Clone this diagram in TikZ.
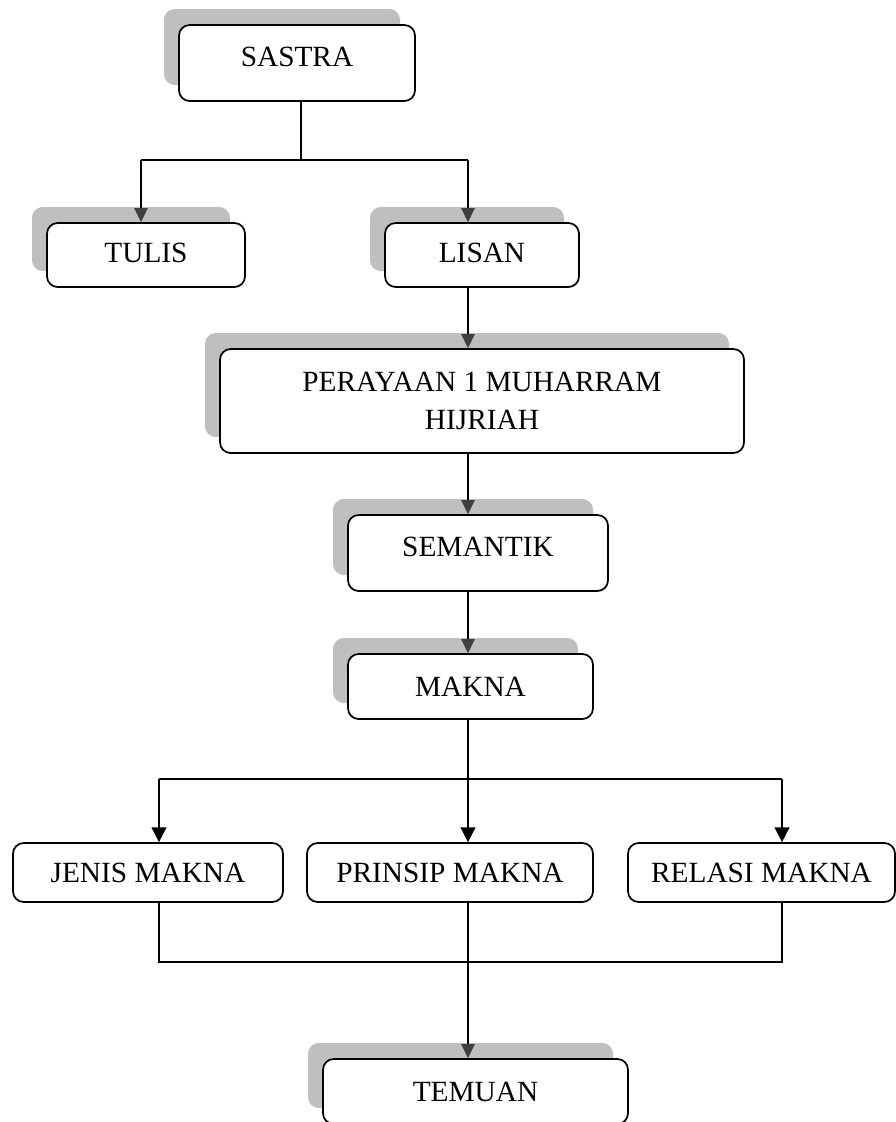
\documentclass[tikz,border=0pt]{standalone}
\usepackage{fontspec}
\setmainfont{Liberation Serif}
\usetikzlibrary{arrows.meta,shadows,calc}
\definecolor{shadowgray}{RGB}{191,191,191}
\definecolor{tipgray}{RGB}{64,64,64}
\begin{document}
\begin{tikzpicture}[x=0.75pt,y=-0.75pt,
  boxbase/.style={draw=black, line width=1.3pt, rounded corners=8pt, fill=white,
    font=\fontsize{22}{28.5}\selectfont, inner sep=0pt},
  box/.style={boxbase, text height=14.6pt, text depth=0pt},
  shad/.style={general shadow={shadow xshift=-11.25pt, shadow yshift=12pt, fill=shadowgray}},
  conn/.style={draw=black, line width=1.2pt},
  arr/.style={conn, -{Triangle[width=10pt,length=10.5pt,color=tipgray]}},
  arrb/.style={conn, -{Triangle[width=11pt,length=11pt,color=black]}}
]
\useasboundingbox (0,0) rectangle (896,1122);
\clip (0,0) rectangle (896,1122);

% boxes
\node[box,shad,minimum width=177pt,minimum height=57pt,text depth=9pt] (sastra) at (297,63) {SASTRA};
\node[box,shad,minimum width=148.5pt,minimum height=48pt,text depth=3pt] (tulis) at (146,255) {TULIS};
\node[box,shad,minimum width=145.5pt,minimum height=48pt,text depth=3pt] (lisan) at (482,255) {LISAN};
\node[boxbase,shad,minimum width=393pt,minimum height=78pt,align=center] (perayaan) at (482,401) {PERAYAAN 1 MUHARRAM\\HIJRIAH};
\node[box,shad,minimum width=195pt,minimum height=57pt,text depth=9pt] (semantik) at (478,553) {SEMANTIK};
\node[box,shad,minimum width=183.75pt,minimum height=48.75pt] (makna) at (470.5,686.5) {MAKNA};
\node[box,minimum width=202.5pt,minimum height=44.25pt] (jenis) at (148,872.5) {JENIS MAKNA};
\node[box,minimum width=214.5pt,minimum height=44.25pt] (prinsip) at (450,872.5) {PRINSIP MAKNA};
\node[box,minimum width=200.25pt,minimum height=44.25pt] (relasi) at (761.5,872.5) {RELASI MAKNA};
\node[box,shad,minimum width=228.75pt,minimum height=48.75pt] (temuan) at (475.5,1091.5) {TEMUAN};

% junction points
\coordinate (c1) at (301,160);
\coordinate (tl) at (141,160);
\coordinate (ls) at (468,160);
\coordinate (j2) at (468,779);
\coordinate (jl) at (159,779);
\coordinate (jr) at (782,779);
\coordinate (j3) at (468,962);
\coordinate (bl) at (159,962);
\coordinate (br) at (782,962);

% connectors
\draw[conn] (sastra.south -| c1) -- (c1);
\draw[conn] (tl) -- (ls);
\draw[arr] (tl) -- (tulis.north -| tl);
\draw[arr] (ls) -- (lisan.north -| ls);
\draw[arr] (lisan.south -| ls) -- (perayaan.north -| ls);
\draw[arr] (perayaan.south -| ls) -- (semantik.north -| ls);
\draw[arr] (semantik.south -| ls) -- (makna.north -| ls);
\draw[conn] (makna.south -| j2) -- (j2);
\draw[conn] (jl) -- (jr);
\draw[arrb] (jl) -- (jenis.north -| jl);
\draw[arrb] (j2) -- (prinsip.north -| j2);
\draw[arrb] (jr) -- (relasi.north -| jr);
\draw[conn] (jenis.south -| bl) -- (bl) -- (br) -- (relasi.south -| br);
\draw[arr] (prinsip.south -| j3) -- (temuan.north -| j3);
\end{tikzpicture}
\end{document}
